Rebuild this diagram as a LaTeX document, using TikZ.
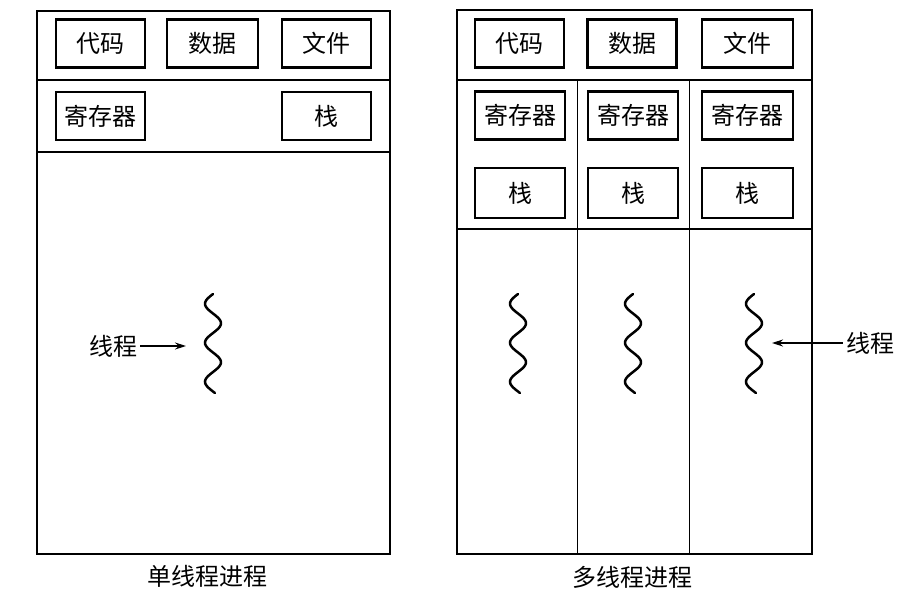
\documentclass[tikz,border=0pt]{standalone}
\usepackage{fontspec}
\newfontfamily\cjk{Noto Sans CJK SC}
\usetikzlibrary{arrows.meta}
\begin{document}
\begin{tikzpicture}[x=1pt,y=-1pt,
  frame/.style={line width=2pt},
  sep/.style={line width=1.4pt},
  thinsep/.style={line width=0.9pt},
  box/.style={draw,line width=2.2pt,minimum width=89pt,minimum height=48pt,inner sep=0pt,font=\cjk\fontsize{24}{28}\selectfont},
  lbl/.style={font=\cjk\fontsize{24}{28}\selectfont,inner sep=3pt},
  wave/.style={line width=2.5pt,line cap=round},
  arr/.style={line width=1.3pt,-{Stealth[length=11pt,width=7pt]}}
]
\useasboundingbox (0,0) rectangle (918,602);

% ---------- single-threaded process ----------
\draw[frame] (37,11) rectangle (390,554);
\coordinate (la) at (37,80);  \coordinate (lb) at (390,80);
\coordinate (lc) at (37,152); \coordinate (ld) at (390,152);
\draw[sep] (la) -- (lb);
\draw[sep] (lc) -- (ld);
\node[box] (lcode) at (100.5,43.5) {代码};
\node[box,minimum width=91pt] (ldata) at (212.5,43.5) {数据};
\node[box] (lfile) at (326.5,43.5) {文件};
\node[box] (lreg) at (100.5,116) {寄存器};
\node[box] (lstack) at (326.5,116) {栈};
\draw[wave] plot[domain=0:99,samples=80,smooth] ({213-8*sin(\x/39*360)},{294+\x});
\node[lbl] (lthr) at (113,346) {线程};
\coordinate (ltip) at (186,346);
\draw[arr] (lthr) -- (ltip);
\node[lbl] (lcap) at (207,576) {单线程进程};

% ---------- multi-threaded process ----------
\draw[frame] (457,10) rectangle (812,554);
\coordinate (ra) at (457,80);  \coordinate (rb) at (812,80);
\coordinate (rc) at (457,229); \coordinate (rd) at (812,229);
\coordinate (rv1t) at (577,80); \coordinate (rv1b) at (577,554);
\coordinate (rv2t) at (689,80); \coordinate (rv2b) at (689,554);
\draw[sep] (ra) -- (rb);
\draw[line width=1.8pt] (rc) -- (rd);
\draw[thinsep] (rv1t) -- (rv1b);
\draw[thinsep] (rv2t) -- (rv2b);
\node[box] (rcode) at (519.5,43.5) {代码};
\node[box] (rdata) at (632,43.5) {数据};
\node[box,minimum width=91pt] (rfile) at (747.5,43.5) {文件};
\node[box,minimum width=90pt] (rreg1) at (520,115.5) {寄存器};
\node[box,minimum width=90pt] (rreg2) at (633,115.5) {寄存器};
\node[box,minimum width=91pt] (rreg3) at (747.5,115.5) {寄存器};
\node[box,minimum width=90pt,minimum height=50pt] (rstk1) at (520,193) {栈};
\node[box,minimum width=90pt,minimum height=50pt] (rstk2) at (633,193) {栈};
\node[box,minimum width=91pt,minimum height=50pt] (rstk3) at (747.5,193) {栈};
\draw[wave] plot[domain=0:99,samples=80,smooth] ({518-8*sin(\x/39*360)},{294+\x});
\draw[wave] plot[domain=0:99,samples=80,smooth] ({633-8*sin(\x/39*360)},{294+\x});
\draw[wave] plot[domain=0:99,samples=80,smooth] ({754-8*sin(\x/39*360)},{294+\x});
\node[lbl] (rthr) at (870,343) {线程};
\coordinate (rtip) at (772,343);
\draw[arr] (rthr) -- (rtip);
\node[lbl] (rcap) at (632,577) {多线程进程};
\end{tikzpicture}
\end{document}
